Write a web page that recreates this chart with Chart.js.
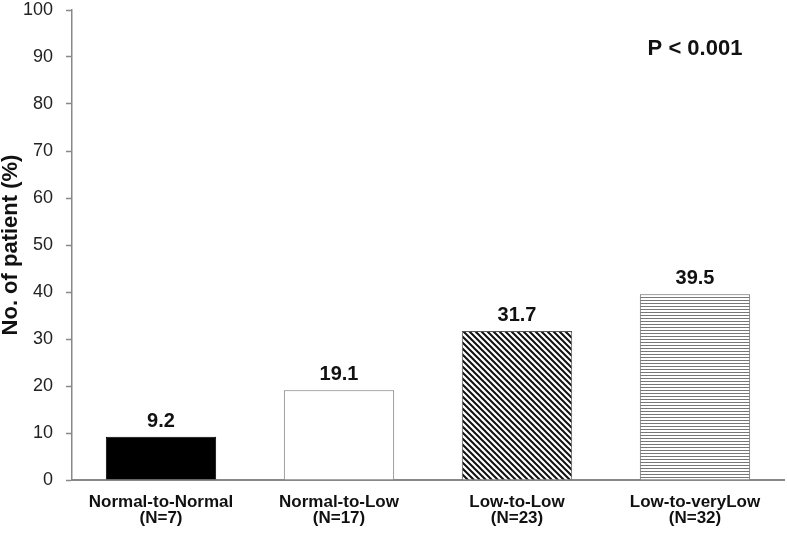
<!DOCTYPE html>
<html>
<head>
<meta charset="utf-8">
<script src="https://cdn.jsdelivr.net/npm/chart.js@4.4.0/dist/chart.umd.min.js"></script>
<style>
  html, body { margin: 0; padding: 0; background: #fff; }
  #wrap { width: 787px; height: 534px; }
</style>
</head>
<body>
<div id="wrap"><canvas id="chart"></canvas></div>
<script>
var groups = ['Normal-to-Normal', 'Normal-to-Low', 'Low-to-Low', 'Low-to-veryLow'];
var counts = ['(N=7)', '(N=17)', '(N=23)', '(N=32)'];
var percents = [9.2, 19.1, 31.7, 39.5];
var yTicks = [0, 10, 20, 30, 40, 50, 60, 70, 80, 90, 100];
var pText = 'P < 0.001';

const FONT = '"Liberation Sans", Arial, sans-serif';

// build fill patterns for the bars
function MakeDiagonal() {
    const c = document.createElement('canvas');
    c.width = 6;
    c.height = 6;
    const g = c.getContext('2d');
    g.fillStyle = '#fff';
    g.fillRect(0, 0, 6, 6);
    g.strokeStyle = '#111';
    g.lineWidth = 2;
    g.beginPath();
    g.moveTo(-1, -1); g.lineTo(7, 7);
    g.moveTo(-1, 5); g.lineTo(1, 7);
    g.moveTo(5, -1); g.lineTo(7, 1);
    g.stroke();
    return g.createPattern(c, 'repeat');
}

function MakeHorizontal() {
    const c = document.createElement('canvas');
    c.width = 4;
    c.height = 3;
    const g = c.getContext('2d');
    g.fillStyle = '#fff';
    g.fillRect(0, 0, 4, 3);
    g.fillStyle = '#777';
    g.fillRect(0, 0, 4, 1);
    return g.createPattern(c, 'repeat');
}

const fills = ['#000', '#fff', MakeDiagonal(), MakeHorizontal()];
const labels = [];
for (let i = 0; i < groups.length; i++) {
    labels.push([groups[i], counts[i]]);
}

// value labels above bars and the p-value text
const barText = {
    id: 'barText',
    afterDatasetsDraw(chart) {
        const ctx = chart.ctx;
        const meta = chart.getDatasetMeta(0);
        ctx.save();
        ctx.fillStyle = '#111';
        ctx.font = 'bold 20px ' + FONT;
        ctx.textAlign = 'center';
        ctx.textBaseline = 'alphabetic';
        for (let i = 0; i < meta.data.length; i++) {
            const bar = meta.data[i];
            ctx.fillText(percents[i].toFixed(1), bar.x, bar.y - 10);
        }
        const x = chart.scales.x.getPixelForValue(3);
        const y = chart.scales.y.getPixelForValue(91.7);
        ctx.font = 'bold 22px ' + FONT;
        ctx.textBaseline = 'middle';
        ctx.fillText(pText, x, y);
        ctx.restore();
    }
};

new Chart(document.getElementById('chart'), {
    type: 'bar',
    data: {
        labels: labels,
        datasets: [{
            data: percents,
            backgroundColor: fills,
            borderColor: ['#000', '#777', '#555', '#666'],
            borderWidth: 1,
            categoryPercentage: 0.62,
            barPercentage: 1.0
        }]
    },
    options: {
        responsive: true,
        maintainAspectRatio: false,
        animation: false,
        layout: { padding: { left: 0, top: 0, right: 3, bottom: 0 } },
        plugins: {
            legend: { display: false },
            tooltip: { enabled: false }
        },
        scales: {
            x: {
                grid: { display: false, drawTicks: false },
                border: { color: '#888', width: 2 },
                afterFit(scale) {
                    scale.paddingLeft = 0;
                    scale.paddingRight = 0;
                    scale.height = 54;
                },
                ticks: {
                    color: '#111',
                    padding: 14,
                    maxRotation: 0,
                    font: { family: FONT, size: 17, weight: 'bold', lineHeight: 0.95 }
                }
            },
            y: {
                min: 0,
                max: 100,
                afterBuildTicks(scale) {
                    scale.ticks = yTicks.map(v => ({ value: v }));
                },
                afterFit(scale) {
                    scale.paddingTop = 10;
                    scale.paddingBottom = 0;
                    scale.width = 72;
                },
                grid: { drawOnChartArea: false, color: '#888', tickLength: 6, tickWidth: 1.5 },
                border: { color: '#888', width: 1.5 },
                ticks: {
                    color: '#222',
                    padding: 13,
                    font: { family: FONT, size: 18, lineHeight: 1 }
                },
                title: {
                    display: true,
                    text: 'No. of patient (%)',
                    color: '#111',
                    padding: { top: 0, bottom: 2 },
                    font: { family: FONT, size: 22, weight: 'bold', lineHeight: 1 }
                }
            }
        }
    },
    plugins: [barText]
});
</script>
</body>
</html>
